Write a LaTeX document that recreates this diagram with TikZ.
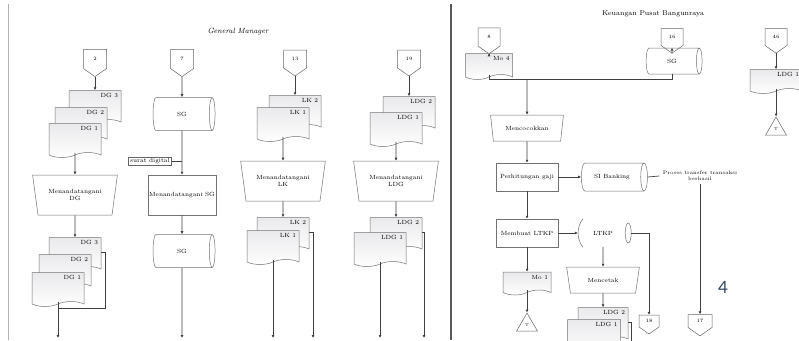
\documentclass[tikz,border=0pt]{standalone}
\usepackage{fontspec}
\newfontfamily\pagefont{Lato}
\usetikzlibrary{arrows.meta,shapes.geometric,shapes.symbols,calc}
\definecolor{pagenum}{RGB}{48,68,100}

\begin{document}
\begin{tikzpicture}[
  x=1pt, y=-1pt,
  font=\fontsize{6}{7}\selectfont,
  ln/.style={draw=black!75, line width=0.7pt},
  arr/.style={ln, -{Latex[length=3pt,width=3pt]}},
  doc/.style={shape=tape, tape bend top=none, tape bend height=5pt, draw=black!55, line width=0.5pt,
    top color=blue!6!gray!16, bottom color=white, minimum width=52pt, minimum height=34pt, inner sep=0pt},
  dl/.style={anchor=north east, inner sep=3pt},
  offpage/.style={shape=signal, signal to=south, signal pointer angle=110, draw=black!60, line width=0.5pt,
    fill=white, minimum width=23pt, minimum height=21pt, inner sep=1pt, font=\fontsize{5}{6}\selectfont},
  manual/.style={trapezium, shape border rotate=180, trapezium angle=73, trapezium stretches=true,
    draw=black!55, line width=0.5pt, minimum width=85pt, minimum height=40pt, align=center, inner sep=1pt},
  proc/.style={rectangle, draw=black!55, line width=0.5pt, minimum width=64pt, minimum height=40pt, align=center, inner sep=1pt},
  disk/.style={cylinder, aspect=0.9, draw=black!55, line width=0.5pt, minimum width=33pt, minimum height=62pt, inner sep=1pt},
  tri/.style={regular polygon, regular polygon sides=3, draw=black!60, line width=0.5pt, minimum size=24pt, inner sep=0pt,
    font=\fontsize{4}{5}\selectfont},
  note/.style={draw=black!60, line width=0.5pt, inner sep=1.5pt}
]
\clip (0,0) rectangle (799,340);
\fill[white] (0,0) rectangle (799,340);
% panel borders and titles
\draw[black!30, line width=0.8pt] (8,4) -- (8,340);
\draw[black!65, line width=1.5pt] (451,4) -- (451,340);
\node[font=\fontsize{7.5}{8}\selectfont\itshape] (gm) at (238,32) {General Manager};
\node[font=\fontsize{7}{8}\selectfont] (keu) at (653,14) {Keuangan Pusat Bangunraya};

% DG
\node[offpage] (c2) at (95,59) {2};
\node[doc, label={[dl]north east:DG 3}] (dg3a) at (95,105) {};
\node[doc, label={[dl]north east:DG 2}] (dg2a) at (81,122) {};
\node[doc, label={[dl]north east:DG 1}] (dg1a) at (75,138) {};
\node[manual] (sign1) at (75,195) {Menandatangani\\DG};
\node[doc, label={[dl]north east:DG 3}] (dg3b) at (75,252) {};
\node[doc, label={[dl]north east:DG 2}] (dg2b) at (65,269) {};
\node[doc, label={[dl]north east:DG 1}] (dg1b) at (58,287) {};
\coordinate (e1) at (58,338);
\draw[arr] (c2.south) -- (dg3a.north);
\draw[arr] (dg1a.south) -- (sign1.north);
\draw[arr] (sign1.south) -- (dg3b.north);
\draw[ln] (dg3b.east) -| ($(e1)+(47,-30)$) -- ($(e1)+(0,-30)$);
\draw[arr] (dg1b.south) -- (e1);

% SG
\node[offpage] (c7) at (182,59) {7};
\node[disk] (sg1) at (182,114) {SG};
\node[proc] (sign2) at (182,195) {Menandatangani SG};
\node[disk] (sg2) at (182,251) {SG};
\node[note] (dig) at (150,161) {surat digital};
\coordinate (e2) at (182,338);
\draw[arr] (c7.south) -- (sg1.north);
\draw[arr] (sg1.south) -- (sign2.north);
\draw[ln] (dig.east) -- (dig.east -| sign2.north);
\draw[arr] (sign2.south) -- (sg2.north);
\draw[arr] (sg2.south) -- (e2);

% LK
\node[offpage] (c13) at (295,59) {13};
\node[doc, label={[dl]north east:LK 2}] (lk2a) at (295,110) {};
\node[doc, label={[dl]north east:LK 1}] (lk1a) at (283,122) {};
\node[manual] (sign3) at (283,181) {Menandatangani\\LK};
\node[doc, label={[dl]north east:LK 2}] (lk2b) at (283,232) {};
\node[doc, label={[dl]north east:LK 1}] (lk1b) at (273,245) {};
\coordinate (e3a) at (273,338);
\coordinate (e3b) at (313,338);
\draw[arr] (c13.south) -- (lk2a.north);
\draw[arr] (lk1a.south) -- (sign3.north);
\draw[arr] (sign3.south) -- (lk2b.north);
\draw[arr] (lk1b.south) -- (e3a);
\draw[arr] (lk2b.east) -| (e3b);

% LDG
\node[offpage] (c19) at (409,59) {19};
\node[doc, label={[dl]north east:LDG 2}] (ldg2a) at (409,111) {};
\node[doc, label={[dl]north east:LDG 1}] (ldg1a) at (396,127) {};
\node[manual] (sign4) at (396,181) {Menandatangani\\LDG};
\node[doc, label={[dl]north east:LDG 2}] (ldg2b) at (396,232) {};
\node[doc, label={[dl]north east:LDG 1}] (ldg1b) at (380,247) {};
\coordinate (e4a) at (380,338);
\coordinate (e4b) at (424,338);
\draw[arr] (c19.south) -- (ldg2a.north);
\draw[arr] (ldg1a.south) -- (sign4.north);
\draw[arr] (sign4.south) -- (ldg2b.north);
\draw[arr] (ldg1b.south) -- (e4a);
\draw[arr] (ldg2b.east) -| (e4b);

% Keuangan Pusat
\node[offpage, minimum width=22pt, minimum height=20pt] (c8) at (489,37) {8};
\node[doc, minimum width=47pt, minimum height=26pt, label={[dl]north east:Mo 4}] (mo4) at (489,64) {};
\node[offpage, minimum width=22pt, minimum height=20pt] (c16) at (672,37) {16};
\node[disk, minimum width=26pt, minimum height=56pt] (sg3) at (672,61) {SG};
\coordinate (jn) at (527,79);
\draw[arr] (c8.south) -- (mo4.north);
\draw[arr] (c16.south) -- (sg3.north);
\draw[ln] (mo4.south) |- (jn);
\draw[ln] (sg3.south) |- (jn);
\node[manual, minimum width=73pt, minimum height=26pt] (cek) at (527,128) {Mencocokkan};
\draw[arr] (jn) -- (cek.north);
\node[proc, minimum width=62pt, minimum height=28pt] (hitung) at (527,177) {Perhitungan gaji};
\draw[arr] (cek.south) -- (hitung.north);
\node[disk, minimum width=28pt, minimum height=66pt] (bank) at (612,177) {SI Banking};
\draw[arr] (hitung.east) -- (bank.west);
\node[align=center, font=\fontsize{5}{6}\selectfont] (hasil) at (700,176) {Proses transfer transaksi\\berhasil};
\draw[ln] (bank.east) -- (hasil.west);
\node[offpage, minimum width=24pt, minimum height=16pt] (c17) at (700,321) {17};
\draw[arr] (hasil.south) -- (c17.north);
\node[proc, minimum width=62pt, minimum height=28pt] (ltkp) at (527,233) {Membuat LTKP};
\draw[arr] (hitung.south) -- (ltkp.north);
\node[minimum width=50pt, minimum height=28pt] (ltkpf) at (603,233) {LTKP};
\draw[ln, line width=0.5pt, draw=black!55] ([xshift=5pt]ltkpf.north west) to[bend right=35] ([xshift=5pt]ltkpf.south west);
\draw[ln, line width=0.5pt, draw=black!55] (ltkpf.east) ellipse [x radius=3pt, y radius=10pt];
\draw[arr] (ltkp.east) -- (ltkpf.west);
\node[offpage, minimum width=20pt, minimum height=15pt] (c18) at (649,321) {18};
\draw[arr] ([xshift=3pt]ltkpf.east) -| (c18.north);
\node[manual, minimum width=73pt, minimum height=26pt] (cetak) at (603,280) {Mencetak};
\draw[arr] (ltkpf.south) -- (cetak.north);
\node[doc, minimum width=50pt, label={[dl]north east:LDG 2}] (ldg2c) at (603,322) {};
\node[doc, minimum width=53pt, label={[dl]north east:LDG 1}] (ldg1c) at (594,334) {};
\coordinate (e6) at (631,345);
\draw[arr] (cetak.south) -- (ldg2c.north);
\draw[ln] (ldg2c.east) -| (e6);
\node[doc, minimum width=48pt, minimum height=23pt, label={[dl]north east:Mo 1}] (mo1) at (527,281) {};
\draw[arr] (ltkp.south) -- (mo1.north);
\node[tri] (arsip1) at (527,325) {T};
\draw[arr] (mo1.south) -- (arsip1.corner 1);

% kolom kanan
\node[offpage, minimum width=22pt, minimum height=20pt] (c46) at (776,37) {46};
\node[doc, minimum height=24pt, label={[dl]north east:LDG 1}] (ldg1d) at (776,79) {};
\node[tri] (arsip2) at (776,129) {T};
\draw[arr] (c46.south) -- (ldg1d.north);
\draw[arr] (ldg1d.south) -- (arsip2.corner 1);

\node[font=\pagefont\fontsize{17}{17}\selectfont, text=pagenum] (pg) at (723,287) {4};
\end{tikzpicture}
\end{document}
